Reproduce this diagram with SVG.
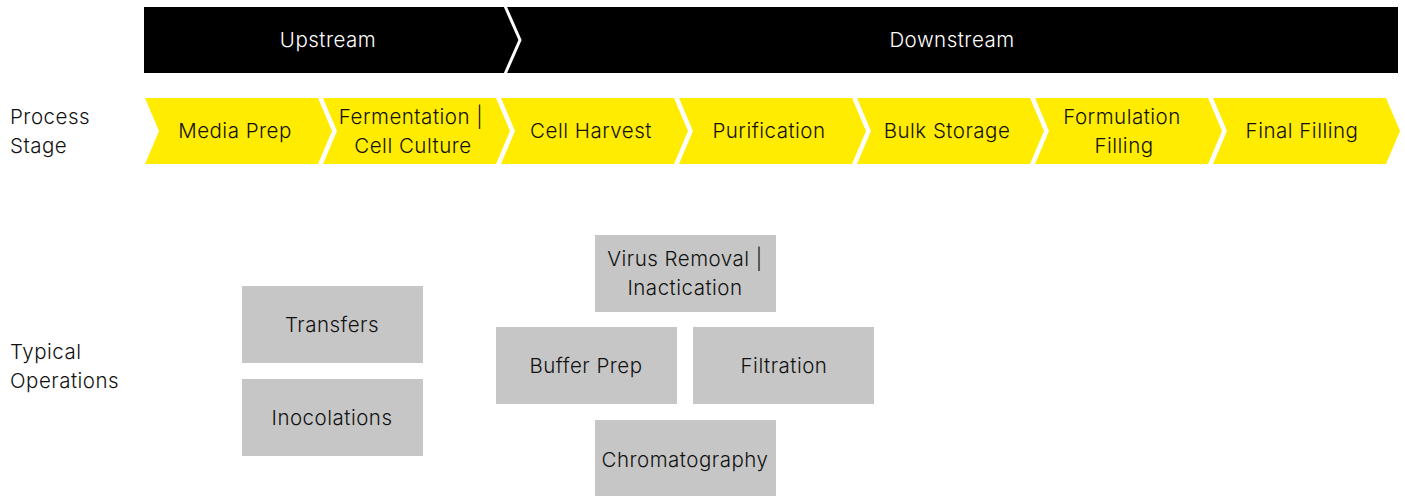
<svg xmlns="http://www.w3.org/2000/svg" width="1405" height="496" viewBox="0 0 1405 496">
<style>
text{font-family:Inter,Lato,"Liberation Sans",sans-serif;font-size:20.5px;font-weight:300;letter-spacing:0.5px;}
.w{fill:#ffffff;text-anchor:middle;}
.k{fill:#111111;text-anchor:middle;}
.lab{fill:#111111;}
.chev{fill:#ffec00;}
.op{fill:#c6c6c6;}
</style>
<rect width="1405" height="496" fill="#ffffff"/>
<g id="phase-bar">
<rect x="144" y="7" width="1254" height="66" fill="#000000"/>
<polyline points="505,6 520,40 505,74" fill="none" stroke="#ffffff" stroke-width="3"/>
<text class="w" x="328" y="47">Upstream</text>
<text class="w" x="952" y="47">Downstream</text>
</g>
<g id="row-labels">
<text class="lab" x="10" y="124">Process</text>
<text class="lab" x="10" y="153">Stage</text>
<text class="lab" x="10" y="359">Typical</text>
<text class="lab" x="10" y="388">Operations</text>
</g>
<g id="stage-media-prep">
<polygon class="chev" points="145,98 318,98 332,131 318,164 145,164 159,131"/>
<text class="k" x="235" y="138">Media Prep</text>
</g>
<g id="stage-fermentation">
<polygon class="chev" points="323,98 496,98 510,131 496,164 323,164 337,131"/>
<text class="k" x="411" y="124">Fermentation |</text>
<text class="k" x="413" y="153">Cell Culture</text>
</g>
<g id="stage-cell-harvest">
<polygon class="chev" points="501,98 674,98 688,131 674,164 501,164 515,131"/>
<text class="k" x="591" y="138">Cell Harvest</text>
</g>
<g id="stage-purification">
<polygon class="chev" points="679,98 852,98 866,131 852,164 679,164 693,131"/>
<text class="k" x="769" y="138">Purification</text>
</g>
<g id="stage-bulk-storage">
<polygon class="chev" points="857,98 1030,98 1044,131 1030,164 857,164 871,131"/>
<text class="k" x="947" y="138">Bulk Storage</text>
</g>
<g id="stage-formulation">
<polygon class="chev" points="1035,98 1208,98 1222,131 1208,164 1035,164 1049,131"/>
<text class="k" x="1122" y="124">Formulation</text>
<text class="k" x="1124" y="153">Filling</text>
</g>
<g id="stage-final-filling">
<polygon class="chev" points="1213,98 1386,98 1400,131 1386,164 1213,164 1227,131"/>
<text class="k" x="1302" y="138">Final Filling</text>
</g>
<g id="op-transfers">
<rect class="op" x="242" y="286" width="181" height="77"/>
<text class="k" x="332" y="332">Transfers</text>
</g>
<g id="op-inocolations">
<rect class="op" x="242" y="379" width="181" height="77"/>
<text class="k" x="332" y="425">Inocolations</text>
</g>
<g id="op-virus-removal">
<rect class="op" x="595" y="235" width="181" height="77"/>
<text class="k" x="685" y="266">Virus Removal |</text>
<text class="k" x="685" y="295">Inactication</text>
</g>
<g id="op-buffer-prep">
<rect class="op" x="496" y="327" width="181" height="77"/>
<text class="k" x="586" y="373">Buffer Prep</text>
</g>
<g id="op-filtration">
<rect class="op" x="693" y="327" width="181" height="77"/>
<text class="k" x="784" y="373">Filtration</text>
</g>
<g id="op-chromatography">
<rect class="op" x="595" y="420" width="181" height="76"/>
<text class="k" x="685" y="467">Chromatography</text>
</g>
<g id="connectors"></g>
</svg>
